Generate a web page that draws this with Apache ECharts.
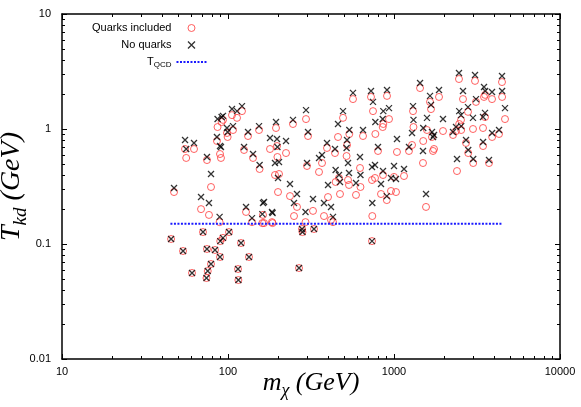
<!DOCTYPE html>
<html><head><meta charset="utf-8">
<script src="https://cdn.jsdelivr.net/npm/echarts@6/dist/echarts.min.js"></script>
<style>html,body{margin:0;padding:0;background:#fff}#c{width:581px;height:407px}</style>
</head><body><div id="c"></div>
<script>
// Dark-matter mass (GeV) for points above T_QCD
const mChi = [47.3,55.1,56,62.4,68.8,74.7,79.0,76.8,85.8,86.5,89.5,90.7,91.5,93.3,98.6,99.5,89,105.7,107.2,113.3,
121.4,124.9,132.0,128.4,139.5,141.5,153.8,155,162.5,164.8,161,179.1,184.1,185.5,194.6,197.3,198.5,191.9,202.9,200.1,
223.6,236.3,246.3,249.8,260.4,295.1,303.4,299.2,293,325.1,353.4,368.4,378.7,394.8,400.4,417.4,429.1,441.1,445,459.9,
472.8,466.3,493.0,521.2,528.4,535.8,518,538,566.2,590.3,624.0,628,650.6,726.8,747.3,737.1,768.3,772,801.0,740,
835.1,858.5,862,855,907.5,933.1,905,959.2,1028,1000,1042,1149,1231,1302,1284,1310,1435,1495,1500,1580,
1559,1648,1671,1694,1718,1742,1867,1973,2267,2363,2396,2463,2470,2533,2540,2604,2715,2791,2800,2991,
3000,3076,3119,3437,3440,3485,3534,3540,3735,3895,3900,4292,4473,4480,4663];
// T_kd (GeV) without quarks (crosses)
const tkdNoQuarks = [0.307,0.802,0.670,0.756,0.256,0.571,0.406,0.227,0.852,1.22,0.711,0.697,1.27,1.30,1.02,0.942,0.172,1.49,1.06,1.43,
1.58,0.697,0.942,0.210,0.168,0.606,1.06,0.486,0.227,0.232,0.182,0.835,0.190,0.186,1.15,0.818,0.697,0.506,0.516,0.375,
0.786,0.332,1.20,0.227,0.272,1.46,0.942,0.506,0.190,0.246,0.560,0.594,0.227,0.756,0.326,0.210,0.172,0.670,0.440,1.105,
0.346,0.398,1.43,0.802,0.506,0.414,0.684,0.98,2.06,0.339,0.571,0.398,0.98,2.14,1.72,0.467,0.486,1.15,0.697,0.227,
0.332,0.431,1.43,1.22,2.18,1.52,0.261,0.375,0.367,0.477,0.818,0.449,0.697,1.58,0.923,1.20,2.51,0.644,1.02,1.25,
0.272,1.94,1.62,0.942,0.852,0.887,2.18,1.22,0.942,1.04,0.548,3.07,1.43,1.32,1.06,2.14,0.802,1.55,0.657,1.25,
0.548,2.95,1.82,1.27,0.771,2.32,1.38,2.14,0.537,2.10,0.923,0.98,2.89,2.14,1.52];
// T_kd (GeV) with quarks included (circles)
const tkdQuarks = [0.283,0.670,0.560,0.670,0.201,0.537,0.313,0.179,0.786,1.04,0.606,0.560,1.15,1.20,0.923,0.852,0.155,1.32,0.98,1.25,
1.43,0.657,0.869,0.190,0.155,0.560,0.98,0.449,0.179,0.152,0.152,0.670,0.155,0.152,1.02,0.711,0.571,0.398,0.406,0.283,
0.618,0.261,1.105,0.175,0.210,1.22,0.869,0.477,0.155,0.194,0.423,0.506,0.175,0.684,0.256,0.162,0.155,0.618,0.346,0.852,
0.272,0.375,1.25,0.726,0.360,0.326,0.582,0.905,1.82,0.267,0.458,0.313,0.869,1.90,1.43,0.360,0.375,0.905,0.644,0.175,
0.272,0.398,1.105,1.04,1.94,1.22,0.241,0.289,0.283,0.383,0.631,0.390,0.644,1.43,0.726,1.04,2.27,0.506,0.786,0.98,
0.210,1.72,1.49,0.852,0.644,0.670,1.90,0.96,0.887,0.96,0.431,2.72,1.105,1.20,0.98,1.82,0.756,1.41,0.618,1.00,
0.506,2.62,1.72,1.02,0.711,1.90,1.27,1.98,0.506,1.82,0.852,0.905,2.56,1.90,1.22];
// Points below T_QCD (same value in both cases)
const mChiLow = [45.4,53.6,60.7,70.7,74.7,75.5,74.2,79.0,83.5,89.5,89.8,93.3,101.4,114.9,115.5,119.8,133.8,279.2,281,329.7,737.1,267.8];
const tkdLow = [0.1105,0.0869,0.0560,0.127,0.0905,0.0582,0.0506,0.0670,0.0887,0.0771,0.106,0.113,0.127,0.0606,0.0486,0.102,0.0771,0.135,0.127,0.135,0.106,0.0618];
// T_QCD line
const tqcdX = [45, 4500];
const tqcdT = 0.15;
// axis ticks
const xDecades = [10, 100, 1000];
const yDecades = [0.01, 0.1, 1];
const minorMult = [2,3,4,5,6,7,8,9];

const quarksData = mChi.map((m,i)=>[m,tkdQuarks[i]]).concat(mChiLow.map((m,i)=>[m,tkdLow[i]]));
const noQuarksData = mChi.map((m,i)=>[m,tkdNoQuarks[i]]).concat(mChiLow.map((m,i)=>[m,tkdLow[i]]));
const tqcdData = tqcdX.map(x=>[x,tqcdT]);

const chart = echarts.init(document.getElementById('c'), null, {renderer:'canvas'});
const fmt = v => String(Number((+v).toPrecision(6)));
const sans = 'Liberation Sans';
const serif = 'Liberation Serif';
const lineS = {color:'#000', width:1.5};
const tickS = {inside:true, length:5, lineStyle:{color:'#000', width:1}};

const option = {
  animation:false,
  backgroundColor:'#fff',
  grid:{left:62, right:21, top:14, bottom:48, containLabel:false, outerBoundsMode:'none'},
  legend:{
    orient:'vertical', align:'right', left:92, top:21, padding:0, itemGap:3,
    itemWidth:30, itemHeight:7,
    textStyle:{fontFamily:sans, fontSize:11, color:'#000', lineHeight:14,
      rich:{a:{fontFamily:sans, fontSize:11, lineHeight:14}, s:{fontFamily:sans, fontSize:8, lineHeight:8, verticalAlign:'bottom'}}},
    formatter: n => n === 'TQCD' ? '{a|T}{s|QCD}' : n,
    data:[
      {name:'Quarks included', itemStyle:{borderWidth:1}},
      {name:'No quarks', itemStyle:{borderWidth:1.3}},
      {name:'TQCD', itemStyle:{opacity:0}}
    ]
  },
  xAxis:[{
    type:'log', logBase:10, min:10, max:10000, position:'bottom',
    axisLine:{lineStyle:lineS}, axisTick:tickS, splitLine:{show:false},
    axisLabel:{formatter:fmt, color:'#000', fontFamily:sans, fontSize:11, margin:7},
    name:'{i|m}{s|χ}{i| (GeV)}', nameLocation:'middle', nameGap:7, nameMoveOverlap:false,
    nameTextStyle:{color:'#000', rich:{
      i:{fontFamily:serif, fontStyle:'italic', fontSize:26, lineHeight:34, color:'#000'},
      s:{fontFamily:serif, fontStyle:'italic', fontSize:18, lineHeight:18, verticalAlign:'bottom', color:'#000'}}}
  },{
    type:'log', logBase:10, min:10, max:10000, position:'top',
    axisLine:{lineStyle:lineS}, axisTick:tickS, splitLine:{show:false}, axisLabel:{show:false}
  }],
  yAxis:[{
    type:'log', logBase:10, min:0.01, max:10, position:'left',
    axisLine:{lineStyle:lineS}, axisTick:tickS, splitLine:{show:false},
    axisLabel:{formatter:fmt, color:'#000', fontFamily:sans, fontSize:11, margin:11},
    name:'{i|T}{s|kd}{i| (GeV)}', nameLocation:'middle', nameGap:32, nameMoveOverlap:false,
    nameTextStyle:{color:'#000', rich:{
      i:{fontFamily:serif, fontStyle:'italic', fontSize:28, lineHeight:36, color:'#000'},
      s:{fontFamily:serif, fontStyle:'italic', fontSize:19, lineHeight:19, verticalAlign:'bottom', color:'#000'}}}
  },{
    type:'log', logBase:10, min:0.01, max:10, position:'right',
    axisLine:{lineStyle:lineS}, axisTick:tickS, splitLine:{show:false}, axisLabel:{show:false}
  }],
  series:[{
    name:'Quarks included', type:'scatter', symbol:'circle', symbolSize:7,
    itemStyle:{color:'rgba(0,0,0,0)', borderColor:'#ff3a3a', borderWidth:1},
    data:quarksData, z:2
  },{
    name:'No quarks', type:'scatter', symbol:'path://M0,0L10,10M10,0L0,10', symbolSize:6,
    itemStyle:{color:'rgba(0,0,0,0)', borderColor:'#000', borderWidth:1.3},
    data:noQuarksData, z:3
  },{
    name:'TQCD', type:'line', symbol:'none', data:tqcdData, z:4,
    itemStyle:{opacity:0},
    lineStyle:{color:'#1a1aff', width:2, type:[2,1.5]}
  }]
};
chart.setOption(option);

// minor ticks (log positions 2..9) computed through the axis scales
const px = v => chart.convertToPixel({xAxisIndex:0}, v);
const py = v => chart.convertToPixel({yAxisIndex:0}, v);
const xL = px(10), xR = px(10000), yB = py(0.01), yT = py(10);
const g = [];
const L = (x1,y1,x2,y2) => g.push({type:'line', silent:true, z:10, shape:{x1,y1,x2,y2}, style:{stroke:'#000', lineWidth:1}});
xDecades.forEach(d => minorMult.forEach(k => {
  const x = Math.round(px(d*k)) + 0.5;
  L(x, yB, x, yB-3); L(x, yT, x, yT+3);
}));
yDecades.forEach(d => minorMult.forEach(k => {
  const y = Math.round(py(d*k)) + 0.5;
  L(xL, y, xL+3, y); L(xR, y, xR-3, y);
}));
chart.setOption({graphic:g});
</script></body></html>
